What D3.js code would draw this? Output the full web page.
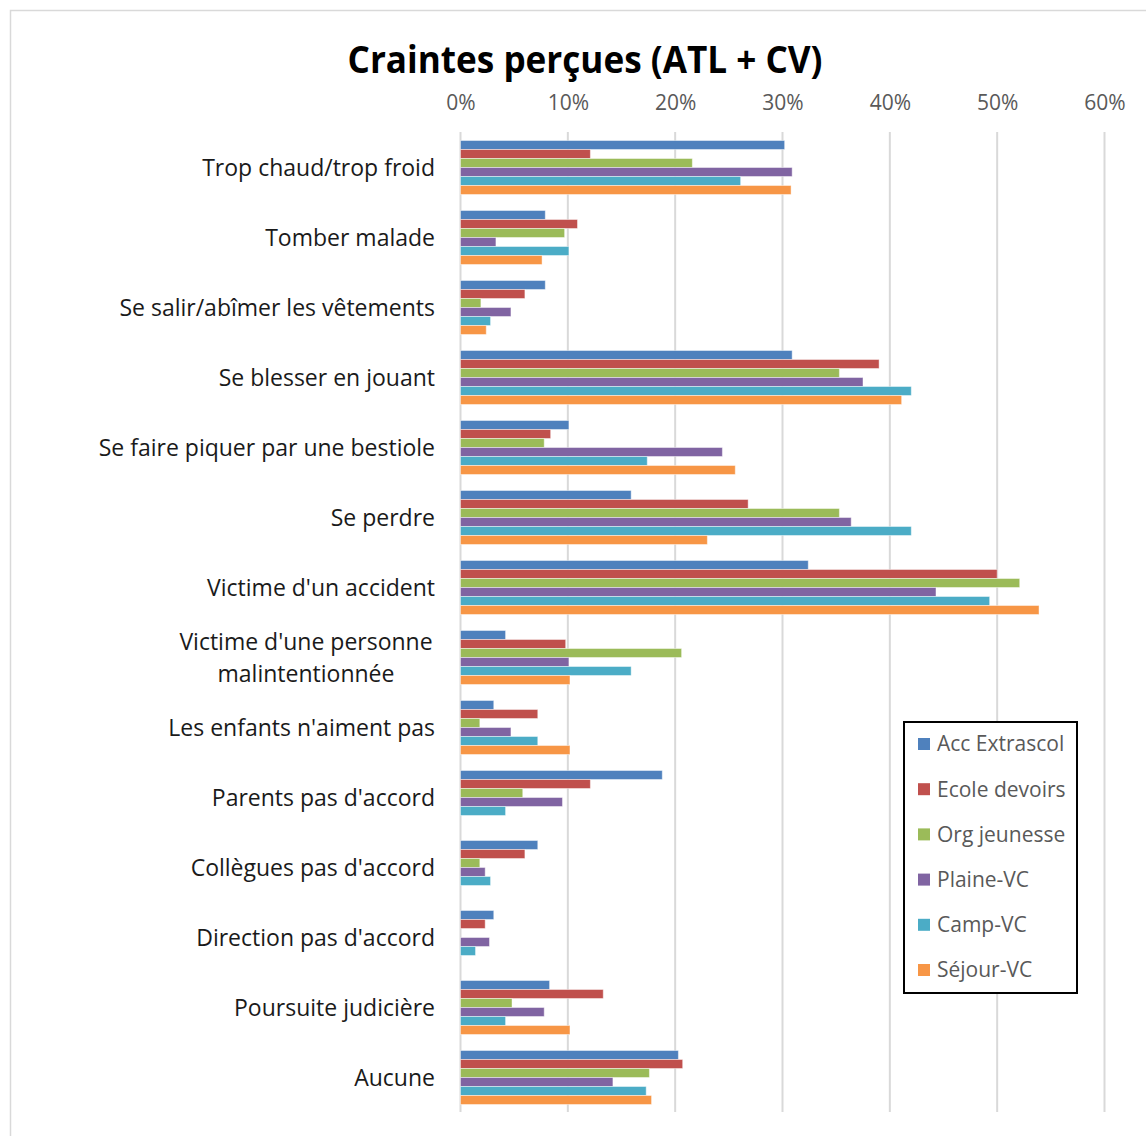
<!DOCTYPE html>
<html>
<head>
<meta charset="utf-8">
<script src="https://cdn.jsdelivr.net/npm/d3@7"></script>
<style>
  html, body { margin: 0; padding: 0; background: #fff; }
  svg { display: block; }
</style>
</head>
<body>
<svg id="chart" width="1146" height="1136"></svg>
<script>
const categories = [
  "Trop chaud/trop froid",
  "Tomber malade",
  "Se salir/abîmer les vêtements",
  "Se blesser en jouant",
  "Se faire piquer par une bestiole",
  "Se perdre",
  "Victime d'un accident",
  "Victime d'une personne malintentionnée",
  "Les enfants n'aiment pas",
  "Parents pas d'accord",
  "Collègues pas d'accord",
  "Direction pas d'accord",
  "Poursuite judicière",
  "Aucune"
];
const seriesNames = ["Acc Extrascol", "Ecole devoirs", "Org jeunesse", "Plaine-VC", "Camp-VC", "Séjour-VC"];
const seriesColors = ["#4F81BD", "#C0504D", "#9BBB59", "#8064A2", "#4BACC6", "#F79646"];
const accExtrascol = [30.2, 7.9, 7.9, 30.9, 10.1, 15.9, 32.4, 4.2, 3.1, 18.8, 7.2, 3.1, 8.3, 20.3];
const ecoleDevoirs = [12.1, 10.9, 6.0, 39.0, 8.4, 26.8, 50.0, 9.8, 7.2, 12.1, 6.0, 2.3, 13.3, 20.7];
const orgJeunesse  = [21.6, 9.7, 1.9, 35.3, 7.8, 35.3, 52.1, 20.6, 1.8, 5.8, 1.8, 0, 4.8, 17.6];
const plaineVC     = [30.9, 3.3, 4.7, 37.5, 24.4, 36.4, 44.3, 10.1, 4.7, 9.5, 2.3, 2.7, 7.8, 14.2];
const campVC       = [26.1, 10.1, 2.8, 42.0, 17.4, 42.0, 49.3, 15.9, 7.2, 4.2, 2.8, 1.4, 4.2, 17.3];
const sejourVC     = [30.8, 7.6, 2.4, 41.1, 25.6, 23.0, 53.9, 10.2, 10.2, 0, 0, 0, 10.2, 17.8];
const tickValues = [0, 0.1, 0.2, 0.3, 0.4, 0.5, 0.6];

const seriesValues = [accExtrascol, ecoleDevoirs, orgJeunesse, plaineVC, campVC, sejourVC];

const svg = d3.select("#chart");
const FONT = "'Open Sans', 'Noto Sans', sans-serif";

// outer chart frame
svg.append("rect").attr("x", 10.5).attr("y", 10.5).attr("width", 1200).attr("height", 1200)
  .attr("fill", "#fff").attr("stroke", "#D9D9D9").attr("stroke-width", 1.5);

const x = d3.scaleLinear().domain([0, 0.6]).range([460.5, 1104.5]);
const y = d3.scaleBand().domain(categories).range([132.5, 1112.5]).paddingInner(16 / 70).paddingOuter(8 / 70);
const y1 = d3.scaleBand().domain(seriesNames).range([0, y.bandwidth()]);

// gridlines
svg.append("g").selectAll("line").data(tickValues).join("line")
  .attr("x1", d => x(d)).attr("x2", d => x(d))
  .attr("y1", 132).attr("y2", 1112)
  .attr("stroke", "#D9D9D9").attr("stroke-width", 2);

// top axis labels
const axis = d3.axisTop(x).tickValues(tickValues).tickFormat(d3.format(".0%")).tickSize(0).tickPadding(0);
const gAxis = svg.append("g").attr("transform", "translate(0,110)").call(axis);
gAxis.select(".domain").remove();
gAxis.selectAll("text").attr("font-family", FONT).attr("font-size", 21).attr("fill", "#595959").attr("dy", 0);

// bars
const groups = svg.append("g").selectAll("g").data(categories).join("g")
  .attr("transform", c => `translate(0,${y(c)})`);
groups.selectAll("rect").data((c, i) => seriesNames.map((s, k) => ({ s, k, v: seriesValues[k][i] / 100 })))
  .join("rect")
  .attr("x", x(0))
  .attr("y", d => y1(d.s))
  .attr("width", d => Math.max(0, x(d.v) - x(0)))
  .attr("height", y1.bandwidth())
  .attr("fill", d => seriesColors[d.k])
  .attr("stroke", "rgba(255,255,255,0.45)")
  .attr("stroke-width", 1)
  .style("display", d => d.v > 0 ? null : "none");

// category labels
const labelG = svg.append("g");
categories.forEach(c => {
  const cy = y(c) + y.bandwidth() / 2;
  if (c === "Victime d'une personne malintentionnée") {
    const t = labelG.append("text").attr("x", 306).attr("text-anchor", "middle")
      .attr("font-family", FONT).attr("font-size", 23).attr("fill", "#1a1a1a");
    t.append("tspan").attr("x", 306).attr("y", cy - 16).attr("dy", "0.35em").text("Victime d'une personne");
    t.append("tspan").attr("x", 306).attr("y", cy + 16).attr("dy", "0.35em").text("malintentionnée");
  } else {
    labelG.append("text").attr("x", 435).attr("y", cy).attr("dy", "0.35em")
      .attr("text-anchor", "end").attr("font-family", FONT).attr("font-size", 23)
      .attr("fill", "#1a1a1a").text(c);
  }
});

// title
svg.append("text").attr("x", 585).attr("y", 73).attr("text-anchor", "middle")
  .attr("font-family", FONT).attr("font-weight", "bold").attr("font-size", 37)
  .attr("textLength", 475).attr("lengthAdjust", "spacingAndGlyphs")
  .attr("fill", "#000").text("Craintes perçues (ATL + CV)");

// legend
const leg = svg.append("g");
leg.append("rect").attr("x", 904).attr("y", 722).attr("width", 173).attr("height", 271)
  .attr("fill", "#fff").attr("stroke", "#000").attr("stroke-width", 2);
seriesNames.forEach((s, k) => {
  const cy = 744 + k * 45.2;
  leg.append("rect").attr("x", 918).attr("y", cy - 6).attr("width", 12).attr("height", 12)
    .attr("fill", seriesColors[k]);
  leg.append("text").attr("x", 937).attr("y", cy).attr("dy", "0.35em")
    .attr("font-family", FONT).attr("font-size", 21).attr("fill", "#595959").text(s);
});
</script>
</body>
</html>
